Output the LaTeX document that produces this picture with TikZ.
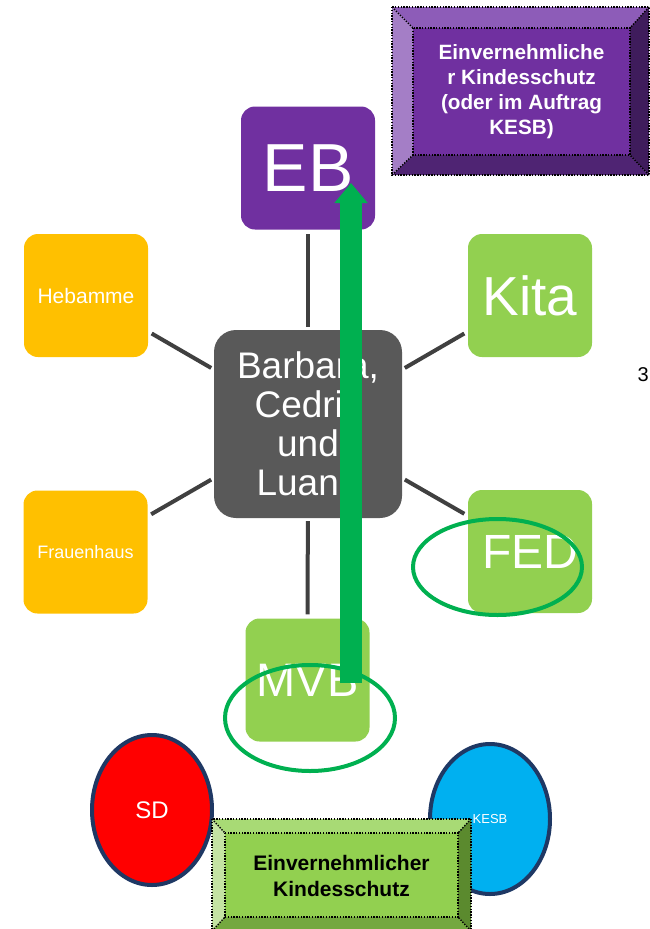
\documentclass[tikz,border=0pt]{standalone}
\usepackage{fontspec}
\setmainfont{Liberation Sans}
\usetikzlibrary{arrows.meta,shapes.geometric}
\definecolor{purp}{HTML}{7030A0}
\definecolor{orng}{HTML}{FFC000}
\definecolor{lgrn}{HTML}{92D050}
\definecolor{ctrC}{HTML}{595959}
\definecolor{connC}{HTML}{404040}
\definecolor{hiG}{HTML}{00B050}
\definecolor{redC}{HTML}{FF0000}
\definecolor{bluC}{HTML}{00B0F0}
\definecolor{navy}{HTML}{1F3864}
\definecolor{pTop}{HTML}{8D5CB8}
\definecolor{pLeft}{HTML}{A47EC6}
\definecolor{pRight}{HTML}{3F1C5C}
\definecolor{pBot}{HTML}{4F2473}
\definecolor{gTop}{HTML}{A8DA75}
\definecolor{gLeft}{HTML}{C4E3A3}
\definecolor{gRight}{HTML}{5B8A2E}
\definecolor{gBot}{HTML}{74A83F}
\tikzset{
  box/.style={rounded corners=14pt, minimum width=124pt, minimum height=123pt, inner sep=0pt, text=white},
  conn/.style={draw=connC, line width=4pt, shorten >=4pt, shorten <=3pt},
  ring/.style={ellipse, draw=hiG, line width=4pt, inner sep=0pt},
  orgoval/.style={ellipse, draw=navy, line width=4pt, inner sep=0pt, minimum width=120pt, minimum height=150pt, text=white},
  dotb/.style={draw=black, line width=1.4pt, dash pattern=on 1.4pt off 1.4pt},
  bigarrow/.style={draw=hiG, line width=22pt, -{Triangle[width=32pt,length=20pt]}}
}
\begin{document}
\begin{tikzpicture}[x=1pt,y=-1pt]
\useasboundingbox (0,0) rectangle (650,929);
% nodes
\node[box, minimum width=134pt, fill=purp, font=\fontsize{68}{70}\selectfont] (eb) at (308,168) {EB};
\node[box, fill=orng, font=\fontsize{21}{24}\selectfont] (heb) at (86,295.5) {Hebamme};
\node[box, fill=lgrn, font=\fontsize{55}{58}\selectfont] (kita) at (530,295.5) {Kita};
\node[box, fill=orng, font=\fontsize{18}{22}\selectfont] (frau) at (85.5,552) {Frauenhaus};
\node[box, fill=lgrn, font=\fontsize{48}{52}\selectfont] (fed) at (530,551.5) {FED};
\node[box, fill=lgrn, font=\fontsize{47}{50}\selectfont] (mvb) at (307.5,680) {MVB};
\node[rounded corners=22pt, minimum width=188pt, minimum height=188pt, inner sep=0pt, fill=ctrC, text=white, align=center, font=\fontsize{37}{39}\selectfont] (ctr) at (308,424) {Barbara,\\Cedric\\und\\Luana};
% connectors
\draw[conn] (ctr) -- (eb);
\draw[conn] (ctr) -- (heb);
\draw[conn] (ctr) -- (kita);
\draw[conn] (ctr) -- (frau);
\draw[conn] (ctr) -- (fed);
\draw[conn] (ctr) -- (mvb);
% SD / KESB
\node[orgoval, fill=redC, font=\fontsize{24}{26}\selectfont] (sd) at (152,810) {SD};
\node[orgoval, fill=bluC, font=\fontsize{13}{15}\selectfont] (kesb) at (490,819) {KESB};
% bottom bevel box
\coordinate (bo1) at (212,819); \coordinate (bo2) at (471,819);
\coordinate (bo3) at (471,931); \coordinate (bo4) at (212,931);
\coordinate (bi1) at (225,833); \coordinate (bi2) at (458,833);
\coordinate (bi3) at (458,917); \coordinate (bi4) at (225,917);
\fill[gTop] (bo1) -- (bo2) -- (bi2) -- (bi1) -- cycle;
\fill[gRight] (bo2) -- (bo3) -- (bi3) -- (bi2) -- cycle;
\fill[gBot] (bo4) -- (bo3) -- (bi3) -- (bi4) -- cycle;
\fill[gLeft] (bo1) -- (bo4) -- (bi4) -- (bi1) -- cycle;
\fill[lgrn] (bi1) rectangle (bi3);
\draw[dotb] (bo1) rectangle (bo3);
\draw[dotb] (bi1) rectangle (bi3);
\draw[dotb] (bo1) -- (bi1) (bo2) -- (bi2) (bo3) -- (bi3) (bo4) -- (bi4);
\node[align=center, font=\bfseries\fontsize{21}{26}\selectfont, text=black] (ksbot) at (341.5,876) {Einvernehmlicher\\Kindesschutz};
% highlight rings
\node[ring, minimum width=169pt, minimum height=96pt] (ringfed) at (497.5,567) {};
\node[ring, minimum width=170pt, minimum height=106pt] (ringmvb) at (310,718) {};
% green arrow
\coordinate (arrS) at (351,683);
\coordinate (arrE) at (351,183);
\draw[bigarrow] (arrS) -- (arrE);
% top bevel box
\coordinate (to1) at (392,7); \coordinate (to2) at (649,7);
\coordinate (to3) at (649,175); \coordinate (to4) at (392,175);
\coordinate (ti1) at (413,28); \coordinate (ti2) at (630,28);
\coordinate (ti3) at (630,155); \coordinate (ti4) at (413,155);
\fill[pTop] (to1) -- (to2) -- (ti2) -- (ti1) -- cycle;
\fill[pRight] (to2) -- (to3) -- (ti3) -- (ti2) -- cycle;
\fill[pBot] (to4) -- (to3) -- (ti3) -- (ti4) -- cycle;
\fill[pLeft] (to1) -- (to4) -- (ti4) -- (ti1) -- cycle;
\fill[purp] (ti1) rectangle (ti3);
\draw[dotb] (to1) rectangle (to3);
\draw[dotb] (ti1) rectangle (ti3);
\draw[dotb] (to1) -- (ti1) (to2) -- (ti2) (to3) -- (ti3) (to4) -- (ti4);
\node[align=center, font=\bfseries\fontsize{20.7}{25}\selectfont, text=white] (kstop) at (521.5,92) {Einvernehmliche\\r Kindesschutz\\(oder im Auftrag\\KESB)};
% number at right edge
\node[anchor=east, inner sep=0pt, font=\fontsize{20}{24}\selectfont] (three) at (649,375) {3};
\end{tikzpicture}
\end{document}
